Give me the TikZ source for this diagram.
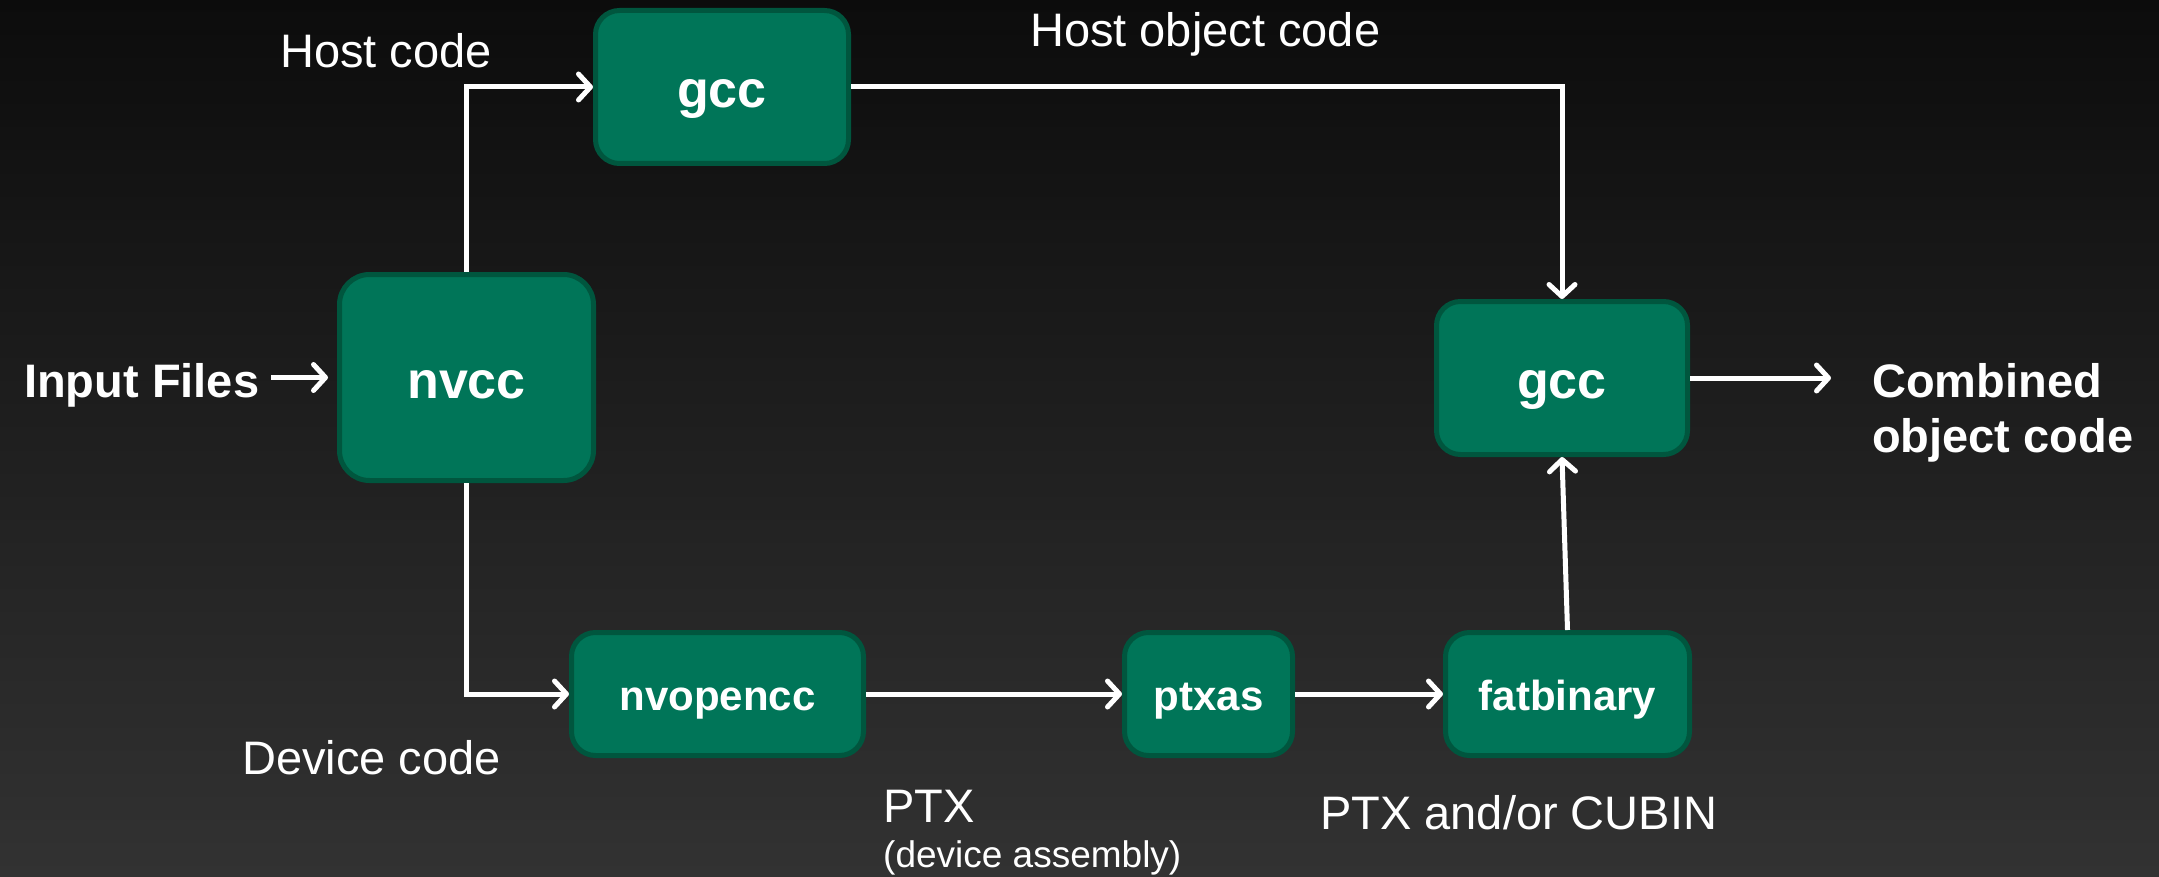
\documentclass[tikz,border=0pt]{standalone}
\usepackage{fontspec}
\setmainfont{Liberation Sans}
\usetikzlibrary{arrows.meta}
\definecolor{bgtop}{RGB}{12,12,12}
\definecolor{bgbot}{RGB}{50,50,50}
\definecolor{boxfill}{RGB}{0,117,88}
\definecolor{boxline}{RGB}{0,86,62}
\begin{document}
\begin{tikzpicture}[x=1pt,y=-1pt,
  box/.style={draw=boxline, line width=5pt, fill=boxfill, rounded corners=24pt,
    text=white, font=\bfseries\fontsize{42}{50}\selectfont, inner sep=0pt,
    text height=32pt, text depth=0pt},
  bigbox/.style={box, font=\bfseries\fontsize{52}{60}\selectfont,
    text height=41pt, text depth=0pt},
  lbl/.style={text=white, font=\fontsize{47}{56}\selectfont, inner sep=0pt, anchor=base west},
  blbl/.style={lbl, font=\bfseries\fontsize{47}{56}\selectfont},
  slbl/.style={lbl, font=\fontsize{37}{44}\selectfont},
  arr/.style={draw=white, line width=5pt,
    -{Straight Barb[length=12pt,width=26pt,line cap=round,line join=round]}},
]
\shade[top color=bgtop, bottom color=bgbot] (0,0) rectangle (2159,877);
\useasboundingbox (0,0) rectangle (2159,877);

% boxes
\node[bigbox, minimum width=253pt, minimum height=153pt] (gcc1) at (722,87) {gcc};
\node[bigbox, minimum width=254pt, minimum height=206pt, rounded corners=30pt] (nvcc) at (466.5,377.5) {nvcc};
\node[bigbox, minimum width=251pt, minimum height=153pt] (gcc2) at (1562,378) {gcc};
\node[box, minimum width=292pt, minimum height=123pt] (nvop) at (717.5,694) {nvopencc};
\node[box, minimum width=168pt, minimum height=123pt] (ptxas) at (1208.5,694) {ptxas};
\node[box, minimum width=244pt, minimum height=123pt] (fat) at (1567.5,694) {fatbinary};

% labels
\node[blbl] (input) at (24,397) {Input Files};
\node[lbl] (hostcode) at (280,68) {Host code};
\node[lbl] (hostobj) at (1030,47) {Host object code};
\node[lbl] (devcode) at (242,774) {Device code};
\node[lbl] (ptx) at (883,822) {PTX};
\node[slbl] (ptxsub) at (883,867) {(device assembly)};
\node[lbl] (cubin) at (1320,829) {PTX and/or CUBIN};
\node[blbl] (comb1) at (1872,397) {Combined};
\node[blbl] (comb2) at (1872,452) {object code};

% connectors
\draw[arr, shorten <=12pt, shorten >=9pt] (input.east |- nvcc.west) -- (nvcc.west);
\draw[arr] (nvcc.north) |- (gcc1.west);
\draw[arr] (gcc1.east) -| (gcc2.north);
\draw[arr] (nvcc.south) |- (nvop.west);
\draw[arr] (nvop.east) -- (ptxas.west);
\draw[arr] (ptxas.east) -- (fat.west);
\draw[arr] (fat.north) -- (gcc2.south);
\draw[arr, shorten >=41pt] (gcc2.east) -- (gcc2.east -| comb1.west);
\end{tikzpicture}
\end{document}
